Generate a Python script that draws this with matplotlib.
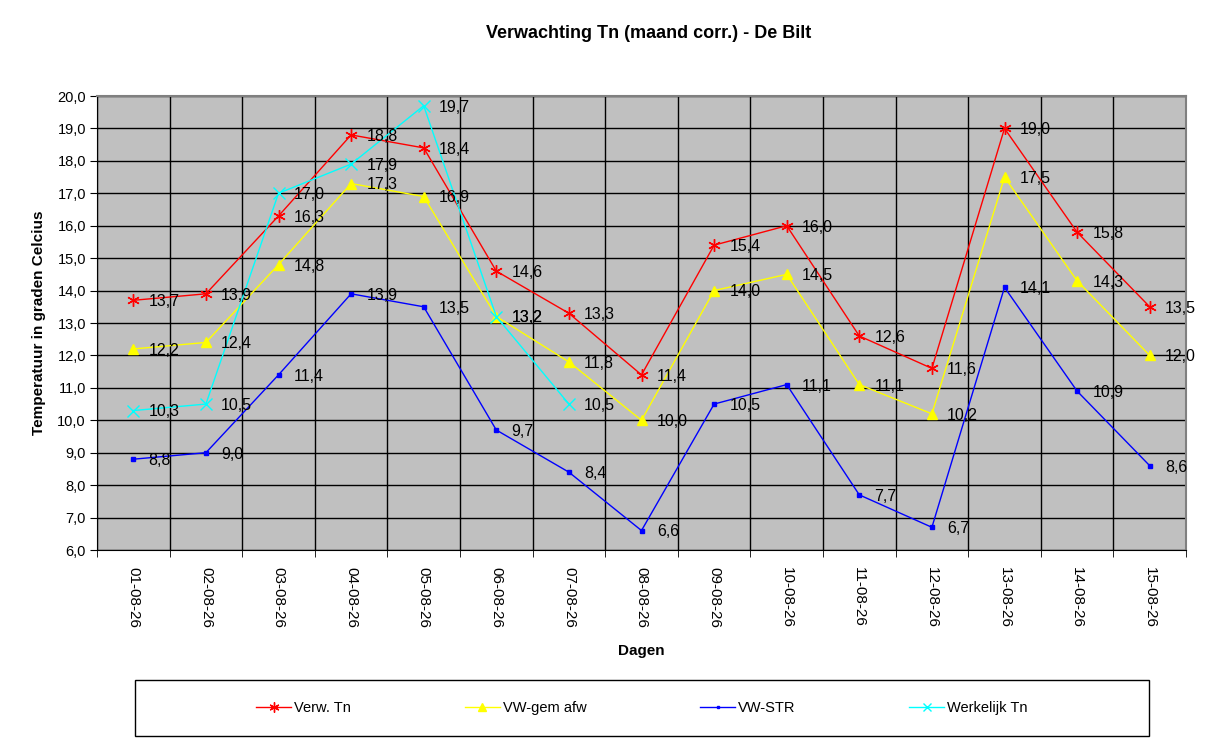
import numpy as np
import matplotlib.pyplot as plt
from matplotlib.patches import Rectangle
from matplotlib.ticker import FuncFormatter, MultipleLocator

plt.rcParams['font.family'] = ['Liberation Sans', 'DejaVu Sans']

# Data
dagen = ['01-08-26', '02-08-26', '03-08-26', '04-08-26', '05-08-26', '06-08-26', '07-08-26',
         '08-08-26', '09-08-26', '10-08-26', '11-08-26', '12-08-26', '13-08-26', '14-08-26', '15-08-26']
verw_tn = [13.7, 13.9, 16.3, 18.8, 18.4, 14.6, 13.3, 11.4, 15.4, 16.0, 12.6, 11.6, 19.0, 15.8, 13.5]
vw_gem_afw = [12.2, 12.4, 14.8, 17.3, 16.9, 13.2, 11.8, 10.0, 14.0, 14.5, 11.1, 10.2, 17.5, 14.3, 12.0]
vw_str = [8.8, 9.0, 11.4, 13.9, 13.5, 9.7, 8.4, 6.6, 10.5, 11.1, 7.7, 6.7, 14.1, 10.9, 8.6]
werkelijk_tn = [10.3, 10.5, 17.0, 17.9, 19.7, 13.2, 10.5]

fig = plt.figure(figsize=(12.17, 7.45), dpi=100)
ax = fig.add_axes([97/1217, 1 - 550/745, (1186 - 97)/1217, (550 - 96)/745])
ax.set_facecolor('#C0C0C0')

x = np.arange(len(dagen))
series = [
    ('Verw. Tn', verw_tn, 'red', dict(marker=(6, 2, 0), markersize=9, markeredgewidth=1.0)),
    ('VW-gem afw', vw_gem_afw, 'yellow', dict(marker='^', markersize=7)),
    ('VW-STR', vw_str, 'blue', dict(marker='s', markersize=2.5)),
    ('Werkelijk Tn', werkelijk_tn, 'cyan', dict(marker='x', markersize=8, markeredgewidth=1.0)),
]
for name, vals, col, mk in series:
    xs = x[:len(vals)]
    ax.plot(xs, vals, color=col, linewidth=1.0, label=name, markerfacecolor=col,
            markeredgecolor=col, zorder=3, **mk)
    for xi, v in zip(xs, vals):
        ax.annotate(f'{v:.1f}'.replace('.', ','), (xi, v), xytext=(11, -1),
                    textcoords='offset points', ha='left', va='center',
                    fontsize=11.5, color='black', zorder=4)

ax.set_xlim(-0.5, len(dagen) - 0.5)
ax.set_ylim(6, 20)
ax.yaxis.set_major_locator(MultipleLocator(1))
ax.yaxis.set_major_formatter(FuncFormatter(lambda v, p: f'{v:.1f}'.replace('.', ',')))
ax.set_xticks(x)
ax.set_xticklabels(dagen, rotation=270, fontsize=11)
ax.set_xticks(np.arange(-0.5, len(dagen)), minor=True)
ax.tick_params(axis='x', which='major', length=0, pad=12)
ax.tick_params(axis='x', which='minor', length=5, direction='out', color='black')
ax.tick_params(axis='y', length=5, direction='out', labelsize=10.5, pad=3)
ax.grid(axis='y', which='major', color='black', linewidth=1.0)
ax.grid(axis='x', which='minor', color='black', linewidth=1.0)
ax.set_axisbelow(True)

for side in ['top', 'right']:
    ax.spines[side].set_color('#808080')
    ax.spines[side].set_linewidth(1.5)
for side in ['left', 'bottom']:
    ax.spines[side].set_color('black')

ax.set_xlabel('Dagen', fontsize=11, fontweight='bold', labelpad=12)
ax.set_ylabel('Temperatuur in graden Celcius', fontsize=11, fontweight='bold', labelpad=8)
fig.text(649/1217, 1 - 33/745, 'Verwachting Tn (maand corr.) - De Bilt',
         ha='center', va='center', fontsize=13, fontweight='bold')

# Legend box
fig.patches.append(Rectangle((135/1217, 1 - 736/745), (1149 - 135)/1217, 56/745,
                             transform=fig.transFigure, fill=False, edgecolor='black',
                             linewidth=1.0))
fig.legend(loc='center', bbox_to_anchor=(642/1217, 1 - 708/745), ncol=4, frameon=False,
           fontsize=10.5, handlelength=2.4, handletextpad=0.2, columnspacing=7.8,
           markerscale=0.8)

fig.savefig('out.png', dpi=100)
